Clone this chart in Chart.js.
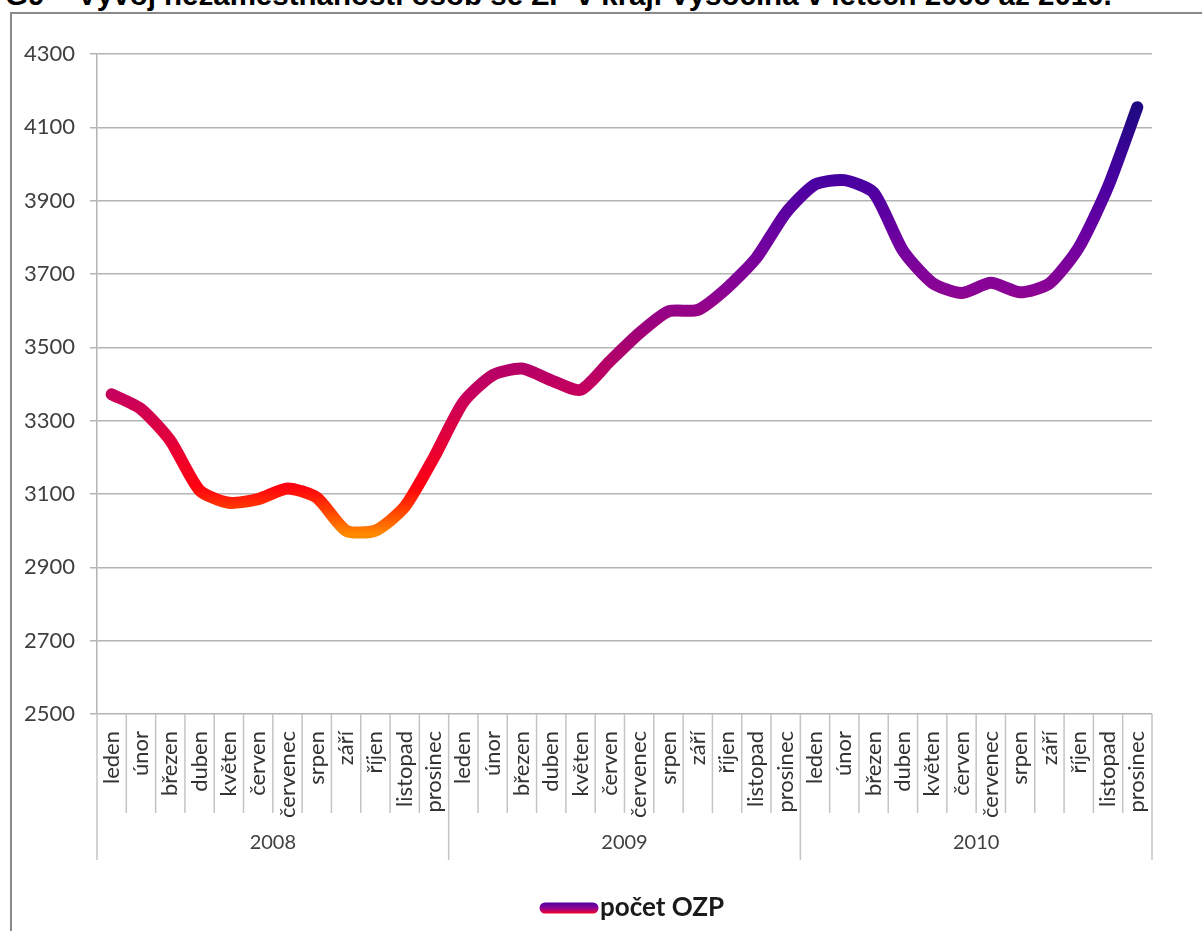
<!DOCTYPE html>
<html>
<head>
<meta charset="utf-8">
<script src="https://cdn.jsdelivr.net/npm/chart.js@4"></script>
<style>
  html, body { margin: 0; padding: 0; background: #fff; overflow: hidden; }
  #wrap { position: relative; width: 1202px; height: 931px; overflow: hidden; }
  #title { position: absolute; left: 5px; top: -22px; font: bold 29.5px "Liberation Sans", Arial, sans-serif; color: #000; white-space: nowrap; }
  #frame { position: absolute; left: 10px; top: 12px; width: 1300px; height: 1000px; border: 2px solid #8a8a8a; box-shadow: 1px 1px 2px #bbb; }
  #c { position: absolute; left: 0; top: 0; }
</style>
</head>
<body>
<div id="wrap">
  <div id="title">G9 – Vývoj nezaměstnanosti osob se ZP v kraji Vysočina v letech 2008 až 2010.</div>
  <div id="frame"></div>
  <canvas id="c" width="1202" height="931"></canvas>
</div>
<script>
/* G9 - pocet OZP, kraj Vysocina 2008-2010 */

var years = ['2008', '2009', '2010'];
var months = ['leden', 'únor', 'březen', 'duben', 'květen', 'červen', 'červenec', 'srpen', 'září', 'říjen', 'listopad', 'prosinec'];

var ozp2008 = [3372, 3332, 3246, 3110, 3076, 3086, 3115, 3090, 3000, 3000, 3065, 3200];
var ozp2009 = [3350, 3424, 3442, 3410, 3384, 3462, 3538, 3598, 3602, 3662, 3744, 3866];
var ozp2010 = [3944, 3956, 3922, 3764, 3676, 3648, 3676, 3650, 3674, 3772, 3938, 4155];

var yMin = 2500, yMax = 4300, yStep = 200;
var seriesName = 'počet OZP';

var labels = [];
years.forEach(function() { labels = labels.concat(months); });
var values = ozp2008.concat(ozp2009, ozp2010);

// colour by value (low = orange, high = navy)
var gradStops = [
  [2990, '#ff8a00'], [3060, '#ff3a00'], [3120, '#ff0010'], [3250, '#e2003c'],
  [3370, '#c8005c'], [3500, '#a8006e'], [3650, '#8c0494'], [3800, '#6c00a0'],
  [3950, '#4a00a2'], [4160, '#1e0a80']
];

function lineGradient(context) {
  var chart = context.chart;
  if (!chart.chartArea) return '#8c0494';
  var y = chart.scales.y;
  var y0 = y.getPixelForValue(gradStops[0][0]);
  var y1 = y.getPixelForValue(gradStops[gradStops.length - 1][0]);
  var g = chart.ctx.createLinearGradient(0, y0, 0, y1);
  var span = gradStops[gradStops.length - 1][0] - gradStops[0][0];
  gradStops.forEach(function(s) { g.addColorStop((s[0] - gradStops[0][0]) / span, s[1]); });
  return g;
}

var FONT = 'Lato, "Open Sans", sans-serif';

// year row + category dividers under the month labels
var yearAxisPlugin = {
  id: 'yearAxis',
  afterDraw: function(chart) {
    var ctx = chart.ctx, x = chart.scales.x, area = chart.chartArea;
    var n = labels.length;
    var top = area.bottom;
    ctx.save();
    ctx.strokeStyle = '#c4c4c4';
    ctx.lineWidth = 1.5;
    for (var i = 0; i <= n; i++) {
      var px;
      if (i === 0) px = area.left;
      else if (i === n) px = area.right;
      else px = (x.getPixelForValue(i - 1) + x.getPixelForValue(i)) / 2;
      var isYear = (i % months.length === 0);
      ctx.beginPath();
      ctx.moveTo(px, top);
      ctx.lineTo(px, top + (isYear ? 146 : 99));
      ctx.stroke();
    }
    ctx.fillStyle = '#404040';
    ctx.font = '20px ' + FONT;
    ctx.textAlign = 'center';
    ctx.textBaseline = 'middle';
    years.forEach(function(yr, k) {
      var a = x.getPixelForValue(k * months.length);
      var b = x.getPixelForValue(k * months.length + months.length - 1);
      ctx.fillText(yr, (a + b) / 2, top + 129);
    });

    // legend
    var lx = 545, ly = 908;
    var lg = ctx.createLinearGradient(0, ly - 6, 0, ly + 6);
    lg.addColorStop(0, '#4a00a2');
    lg.addColorStop(0.5, '#8c0494');
    lg.addColorStop(1, '#ff0020');
    ctx.strokeStyle = lg;
    ctx.lineWidth = 11;
    ctx.lineCap = 'round';
    ctx.beginPath();
    ctx.moveTo(lx, ly);
    ctx.lineTo(lx + 48, ly);
    ctx.stroke();
    ctx.fillStyle = '#1a1a1a';
    ctx.font = 'bold 26px ' + FONT;
    ctx.textAlign = 'left';
    ctx.fillText(seriesName, lx + 55, ly);
    ctx.restore();
  }
};

new Chart(document.getElementById('c'), {
  type: 'line',
  data: {
    labels: labels,
    datasets: [{
      label: seriesName,
      data: values,
      borderColor: lineGradient,
      borderWidth: 12,
      borderCapStyle: 'round',
      borderJoinStyle: 'round',
      tension: 0.22,
      pointRadius: 0,
      fill: false
    }]
  },
  options: {
    responsive: false,
    animation: false,
    devicePixelRatio: 1,
    layout: { padding: { left: 0, top: 54, right: 50, bottom: 0 } },
    plugins: { legend: { display: false }, tooltip: { enabled: false } },
    scales: {
      x: {
        offset: true,
        grid: { display: false },
        border: { display: false },
        ticks: {
          autoSkip: false, maxRotation: 90, minRotation: 90, padding: 9,
          color: '#333', font: { family: FONT, size: 22 }
        },
        afterFit: function(scale) { scale.height = 931 - 714; }
      },
      y: {
        min: yMin, max: yMax,
        ticks: {
          stepSize: yStep, padding: 15, color: '#404040', font: { family: FONT, size: 22 },
          callback: function(v) { return String(v); }
        },
        grid: { color: '#b4b4b4', lineWidth: 1.5, tickLength: 7 },
        border: { display: true, color: '#b4b4b4', width: 1.5 },
        afterFit: function(scale) { scale.width = 97; }
      }
    }
  },
  plugins: [yearAxisPlugin]
});
</script>
</body>
</html>
